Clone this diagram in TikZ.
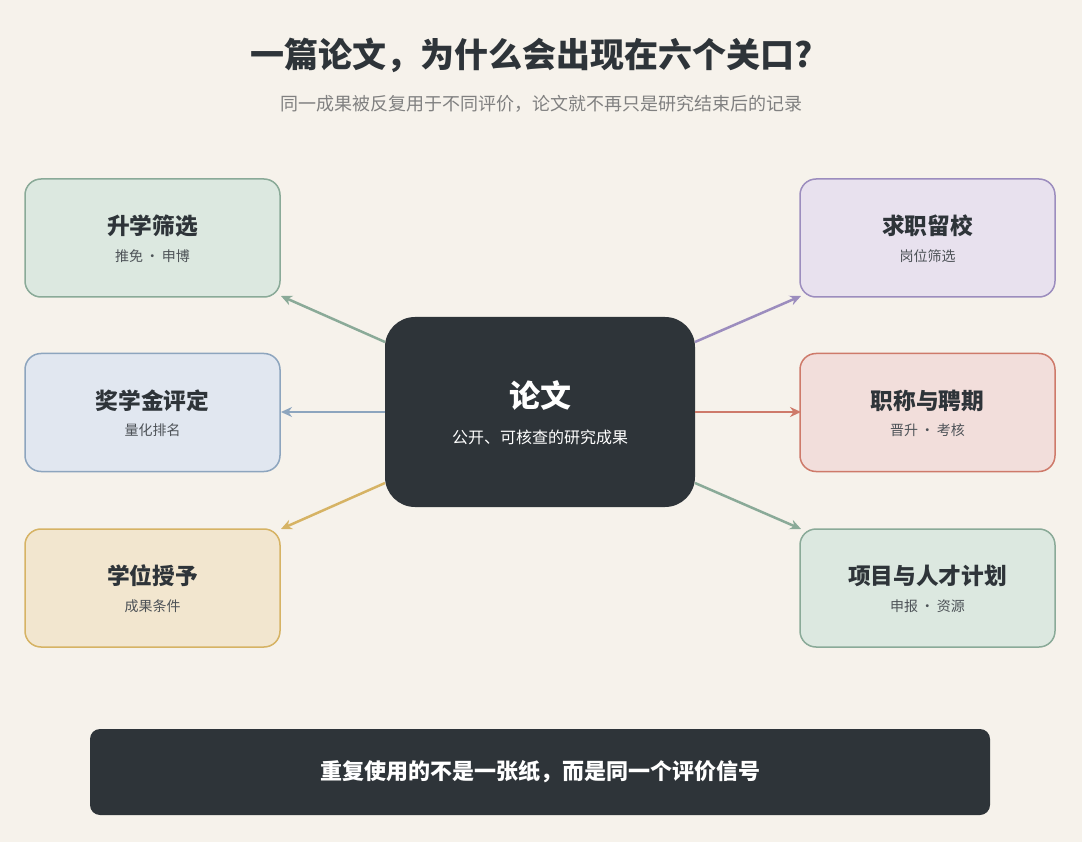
\documentclass[tikz,border=0pt]{standalone}
\usepackage{fontspec}
\setmainfont{Noto Sans CJK SC}
\usetikzlibrary{arrows.meta}
\definecolor{bg}{HTML}{F6F2EB}
\definecolor{dark}{HTML}{2E3439}
\definecolor{gF}{HTML}{DCE8E0}\definecolor{gD}{HTML}{8AAA98}
\definecolor{bF}{HTML}{E1E7F0}\definecolor{bD}{HTML}{8DA5BE}
\definecolor{yF}{HTML}{F2E6CF}\definecolor{yD}{HTML}{D6B364}
\definecolor{pF}{HTML}{E8E1EE}\definecolor{pD}{HTML}{9C8DBE}
\definecolor{rF}{HTML}{F2DEDB}\definecolor{rD}{HTML}{CE7A6A}
\tikzset{
 box/.style={draw=#1D,fill=#1F,line width=1.5pt,rounded corners=16pt,minimum width=255pt,minimum height=118pt,inner sep=0pt},
 ttl/.style={font=\fontsize{22.7}{26}\selectfont\bfseries,text=dark},
 sub/.style={font=\fontsize{14}{16}\selectfont,text=dark!85},
 arr/.style={draw=#1D,line width=2.5pt,-{Stealth[length=11pt,width=10pt]}}
}
\begin{document}
\begin{tikzpicture}[x=1pt,y=-1pt]
\fill[bg] (0,0) rectangle (1082,842);
\useasboundingbox (0,0) rectangle (1082,842);
\node[font=\fontsize{34}{38}\selectfont\bfseries,text=dark] (title) at (532,55) {一篇论文，为什么会出现在六个关口?};
\node[font=\fontsize{18}{20}\selectfont,text=gray] (subt) at (541,104) {同一成果被反复用于不同评价，论文就不再只是研究结束后的记录};
\node[fill=dark,rounded corners=30pt,minimum width=310pt,minimum height=190pt] (c) at (540,412) {};
\node[font=\fontsize{31}{34}\selectfont\bfseries,text=white] (ct) at (540,396) {论文};
\node[font=\fontsize{16}{18}\selectfont,text=white] (cs) at (540,437) {公开、可核查的研究成果};
\foreach \n/\x/\y/\c/\t/\s in {a/152.5/238/g/升学筛选/推免\,·\,申博, b/152.5/412.5/b/奖学金评定/量化排名, d/152.5/588/y/学位授予/成果条件, e/927.5/238/p/求职留校/岗位筛选, f/927.5/412.5/r/职称与聘期/晋升\,·\,考核, h/927.5/588/g/项目与人才计划/申报\,·\,资源}{
 \node[box=\c] (\n) at (\x,\y) {};
 \node[ttl] (\n t) at (\x,\y-12) {\t};
 \node[sub] (\n s) at (\x,\y+18) {\s};
}
\coordinate (c1) at (385,342); \coordinate (c2) at (385,412); \coordinate (c3) at (385,483);
\coordinate (c4) at (695,342); \coordinate (c5) at (695,412); \coordinate (c6) at (695,483);
\coordinate (t1) at (281,296); \coordinate (t2) at (281,412); \coordinate (t3) at (281,529);
\coordinate (t4) at (801,296); \coordinate (t5) at (801,412); \coordinate (t6) at (801,529);
\draw[arr=g] (c1) -- (t1);
\draw[arr=b] (c2) -- (t2);
\draw[arr=y] (c3) -- (t3);
\draw[arr=p] (c4) -- (t4);
\draw[arr=r] (c5) -- (t5);
\draw[arr=g] (c6) -- (t6);
\node[fill=dark,rounded corners=10pt,minimum width=900pt,minimum height=86pt,text=white,font=\fontsize{22}{24}\selectfont\bfseries] (bar) at (540,772) {重复使用的不是一张纸，而是同一个评价信号};
\end{tikzpicture}
\end{document}
